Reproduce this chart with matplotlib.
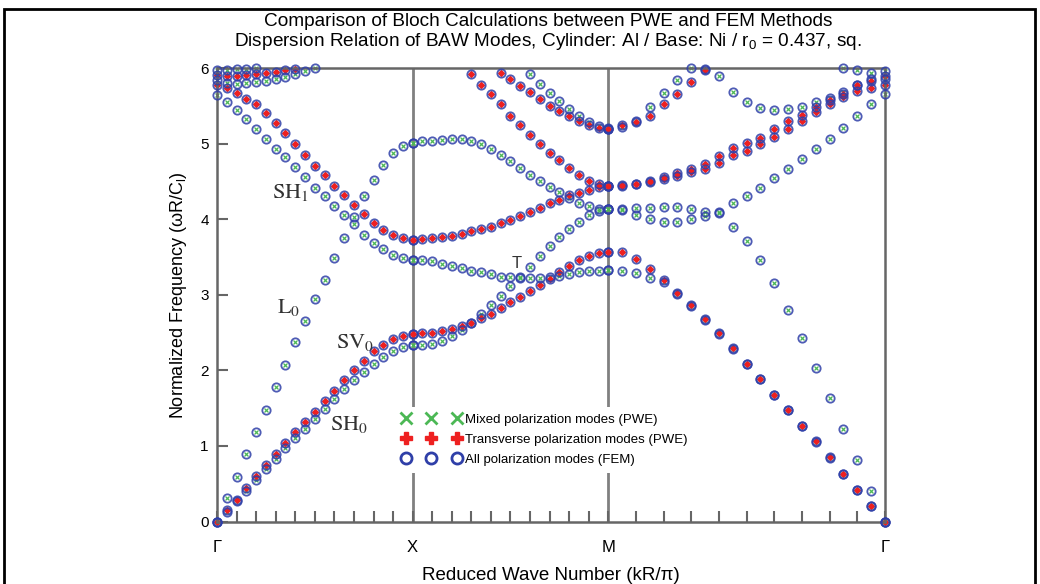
import numpy as np
import matplotlib.pyplot as plt
from matplotlib.lines import Line2D
from matplotlib.patches import Rectangle

nan = np.nan
plt.rcParams['font.family'] = ['Liberation Sans', 'DejaVu Sans']
plt.rcParams['mathtext.fontset'] = 'custom'
plt.rcParams['mathtext.rm'] = 'Liberation Sans'
plt.rcParams['mathtext.it'] = 'Liberation Sans:italic'

# k sampling along the path  Γ -> X -> M -> Γ  (20 steps per segment)
k_gx = np.linspace(0, 1, 21)
k_xm = 1 + np.linspace(0, 1, 21)
k_mg = 2 + np.linspace(0, np.sqrt(2), 21)

sym_pos = [0, 1, 2, 2 + np.sqrt(2)]
sym_labels = ['Γ', 'X', 'M', 'Γ']

# ---- Γ-X
gx_sh0 = [0, 0.13, 0.27, 0.41, 0.55, 0.69, 0.83, 0.97, 1.10, 1.23, 1.36, 1.49, 1.62, 1.75, 1.87, 1.98, 2.08, 2.17, 2.25, 2.31, 2.34]
gx_sv0 = [0, 0.15, 0.29, 0.44, 0.60, 0.75, 0.89, 1.04, 1.18, 1.31, 1.45, 1.59, 1.72, 1.87, 2.01, 2.13, 2.25, 2.34, 2.41, 2.46, 2.48]
gx_l0 = [0, 0.31, 0.59, 0.89, 1.19, 1.48, 1.78, 2.07, 2.37, 2.65, 2.95, 3.20, 3.49, 3.75, 4.03, 4.30, 4.52, 4.72, 4.87, 4.97, 5.01]
gx_sh1 = [5.78, 5.74, 5.67, 5.59, 5.52, 5.41, 5.27, 5.14, 5.00, 4.85, 4.71, 4.58, 4.44, 4.32, 4.19, 4.07, 3.95, 3.86, 3.79, 3.75, 3.73]
gx_b5 = [5.64, 5.55, 5.45, 5.32, 5.19, 5.06, 4.93, 4.82, 4.69, 4.56, 4.41, 4.30, 4.17, 4.05, 3.93, 3.79, 3.69, 3.61, 3.53, 3.48, 3.46]
gx_b6 = [5.84, 5.80, 5.79, 5.80, 5.81, 5.83, 5.85, 5.88, 5.92, 5.96, 6.0] + [nan] * 10
gx_b7 = [5.91, 5.90, 5.90, 5.91, 5.92, 5.93, 5.95, 5.97, 5.99] + [nan] * 12
gx_b8 = [5.98, 5.98, 5.99, 5.99, 6.0] + [nan] * 16

# ---- X-M
xm_b1 = [2.48, 2.49, 2.50, 2.52, 2.55, 2.58, 2.63, 2.69, 2.75, 2.82, 2.90, 2.97, 3.05, 3.13, 3.21, 3.30, 3.38, 3.46, 3.51, 3.55, 3.57]
xm_b2 = [2.34, 2.34, 2.35, 2.39, 2.46, 2.54, 2.63, 2.75, 2.87, 2.99, 3.11, 3.23, 3.37, 3.51, 3.64, 3.77, 3.87, 3.96, 4.05, 4.11, 4.13]
xm_t = [3.46, 3.46, 3.44, 3.41, 3.38, 3.35, 3.32, 3.30, 3.27, 3.24, 3.23, 3.22, 3.22, 3.22, 3.23, 3.25, 3.28, 3.30, 3.31, 3.32, 3.33]
xm_b4 = [3.73, 3.74, 3.75, 3.76, 3.78, 3.81, 3.84, 3.87, 3.90, 3.95, 3.99, 4.04, 4.09, 4.15, 4.21, 4.26, 4.32, 4.35, 4.39, 4.42, 4.44]
xm_b5 = [5.01, 5.03, 5.04, 5.05, 5.06, 5.06, 5.04, 5.00, 4.93, 4.85, 4.77, 4.68, 4.59, 4.51, 4.43, 4.36, 4.28, 4.21, 4.17, 4.14, 4.13]
xm_b6 = [nan] * 6 + [5.92, 5.78, 5.65, 5.52, 5.37, 5.24, 5.12, 4.99, 4.88, 4.78, 4.68, 4.59, 4.51, 4.46, 4.44]
xm_b7 = [nan] * 9 + [5.94, 5.85, 5.76, 5.68, 5.59, 5.50, 5.43, 5.36, 5.30, 5.25, 5.21, 5.19]
xm_b8 = [nan] * 12 + [5.92, 5.79, 5.67, 5.56, 5.46, 5.37, 5.29, 5.23, 5.20]

# ---- M-Γ
mg_diag = [3.57, 3.56, 3.47, 3.34, 3.19, 3.02, 2.86, 2.68, 2.49, 2.29, 2.09, 1.88, 1.68, 1.48, 1.27, 1.06, 0.85, 0.63, 0.42, 0.21, 0.0]
mg_t = [3.33, 3.32, 3.29, 3.22, 3.17, 3.01, 2.85, 2.67, 2.48, 2.28, 2.08, 1.88, 1.67, 1.47, 1.26, 1.05, 0.84, 0.63, 0.42, 0.21, 0.0]
mg_rise = [4.13, 4.12, 4.06, 4.00, 3.96, 3.96, 4.00, 4.04, 4.10, 4.22, 4.30, 4.41, 4.54, 4.66, 4.79, 4.93, 5.06, 5.21, 5.36, 5.52, 5.65]
mg_fall = [4.13, 4.13, 4.15, 4.15, 4.16, 4.16, 4.13, 4.10, 4.08, 3.90, 3.71, 3.46, 3.15, 2.80, 2.43, 2.03, 1.63, 1.23, 0.81, 0.41, 0.0]
mg_r1 = [4.44, 4.45, 4.47, 4.51, 4.56, 4.61, 4.67, 4.73, 4.83, 4.94, 5.01, 5.07, 5.19, 5.30, 5.38, 5.49, 5.58, 5.66, 5.77, 5.83, 5.90]
mg_r2 = [4.44, 4.44, 4.46, 4.49, 4.53, 4.57, 4.62, 4.66, 4.74, 4.85, 4.90, 4.99, 5.09, 5.19, 5.30, 5.42, 5.52, 5.62, 5.69, 5.74, 5.78]
mg_u1 = [5.19, 5.22, 5.30, 5.49, 5.67, 5.84, 6.0] + [nan] * 14
mg_u2 = [5.19, 5.24, 5.28, 5.37, 5.53, 5.65, 5.82, 5.97] + [nan] * 13
mg_dip = [nan] * 7 + [5.99, 5.89, 5.68, 5.55, 5.47, 5.45, 5.46, 5.49, 5.55, 5.60, 5.68, 5.77, 5.85, 5.96]
mg_e = [nan] * 17 + [6.0, 5.98, 5.94, 5.85]

mixed = [(k_gx, gx_sh0), (k_gx, gx_l0), (k_gx, gx_b5), (k_gx, gx_b6), (k_gx, gx_b8),
         (k_xm, xm_b2), (k_xm, xm_t), (k_xm, xm_b5), (k_xm, xm_b8),
         (k_mg, mg_t), (k_mg, mg_rise), (k_mg, mg_fall), (k_mg, mg_u1), (k_mg, mg_dip), (k_mg, mg_e)]
transverse = [(k_gx, gx_sv0), (k_gx, gx_sh1), (k_gx, gx_b7),
              (k_xm, xm_b1), (k_xm, xm_b4), (k_xm, xm_b6), (k_xm, xm_b7),
              (k_mg, mg_diag), (k_mg, mg_r1), (k_mg, mg_r2), (k_mg, mg_u2)]

green = '#4cb855'
red = '#ee2020'
blue = '#2f3fa8'
grey = '#666666'

fig = plt.figure(figsize=(10.4, 5.84), dpi=100)
ax = fig.add_axes([217 / 1040, 62.5 / 584, 668 / 1040, 453.5 / 584])

for x in sym_pos[1:3]:
    ax.axvline(x, color='#808080', lw=2, zorder=0.5)

for k, w in mixed:
    ax.plot(k, w, ls='none', marker='x', ms=3, mew=0.9, color=green, clip_on=False, zorder=2)
for k, w in transverse:
    ax.plot(k, w, ls='none', marker='D', ms=3, color=red, clip_on=False, zorder=2)
for k, w in mixed + transverse:
    ax.plot(k, w, ls='none', marker='o', ms=6, mfc='none', mec=blue, mew=1.3, alpha=0.85,
            clip_on=False, zorder=3)

ax.set_xlim(0, 2 + np.sqrt(2))
ax.set_ylim(0, 6)
ax.set_xticks(sym_pos)
ax.set_xticklabels(sym_labels, fontsize=12)
minor = [i * 0.1 for i in range(21)] + [2 + i * np.sqrt(2) / 10 for i in range(11)]
ax.set_xticks(minor, minor=True)
ax.set_yticks(range(7))
ax.tick_params(axis='y', direction='in', length=8, width=1.5, color=grey, labelsize=11, pad=6)
ax.tick_params(axis='x', which='both', direction='in', length=8, width=1.5, color=grey, pad=13)
for s in ax.spines.values():
    s.set_color(grey)
    s.set_linewidth(1.8)

ax.set_ylabel('Normalized Frequency (ωR/C$_\\mathrm{l}$)', fontsize=13, labelpad=8)
ax.set_xlabel('Reduced Wave Number (kR/π)', fontsize=13.5, labelpad=9)

fig.text(0.527, 1 - 21 / 584, 'Comparison of Bloch Calculations between PWE and FEM Methods',
         ha='center', va='center', fontsize=13.7)
fig.text(0.527, 1 - 42 / 584, 'Dispersion Relation of BAW Modes, Cylinder: Al / Base: Ni / r$_\\mathrm{0}$ = 0.437, sq.',
         ha='center', va='center', fontsize=13.7)

ann = dict(fontsize=16, math_fontfamily='stix', color='#333333', va='baseline', zorder=6)
ax.text(0.28, 4.28, r'$\mathrm{SH}_1$', **ann)
ax.text(0.305, 2.76, r'$\mathrm{L}_0$', **ann)
ax.text(0.608, 2.30, r'$\mathrm{SV}_0$', **ann)
ax.text(0.577, 1.21, r'$\mathrm{SH}_0$', **ann)
ax.text(1.533, 3.36, 'T', fontsize=12, ha='center', va='baseline', color='#333333', zorder=6)

handles = [Line2D([], [], ls='none', marker='x', ms=8, mew=2, color=green),
           Line2D([], [], ls='none', marker='P', ms=9, color=red),
           Line2D([], [], ls='none', marker='o', ms=8, mfc='none', mec=blue, mew=2)]
labels = ['Mixed polarization modes (PWE)', 'Transverse polarization modes (PWE)',
          'All polarization modes (FEM)']
leg = ax.legend(handles, labels, numpoints=3, loc='upper left', bbox_to_anchor=(0.267, 0.253),
                borderaxespad=0, borderpad=0.5, handlelength=4.45, handletextpad=0.3,
                labelspacing=0.6, frameon=True, fancybox=False, framealpha=1,
                prop={'size': 9.5})
leg.get_frame().set_edgecolor('none')
leg.set_zorder(5)

fig.add_artist(Rectangle((4 / 1040, -0.05), 1031 / 1040, 1.05 - 9 / 584, transform=fig.transFigure,
                         fill=False, lw=2, edgecolor='black'))

fig.savefig('out.png', dpi=100)
